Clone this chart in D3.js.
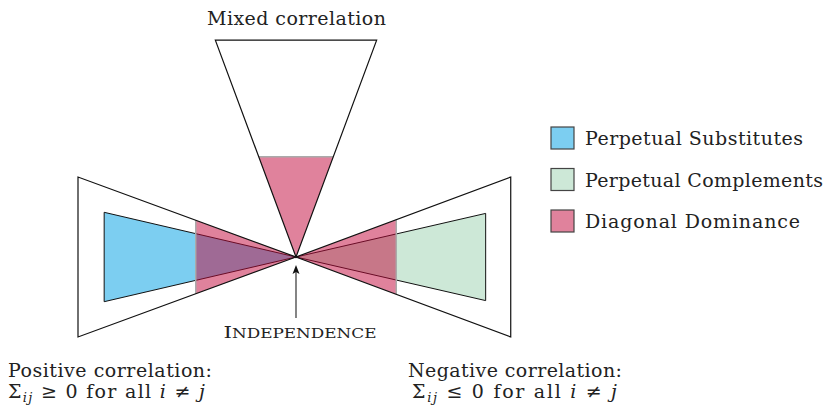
<!DOCTYPE html>
<html>
<head>
<meta charset="utf-8">
<script src="https://cdn.jsdelivr.net/npm/d3@7"></script>
<style>
  body { margin: 0; background: #fff; }
</style>
</head>
<body>
<script>
// wedges of the diagram, all meeting at the independence point (0,0)
const wedgeNames = ['Positive correlation', 'Mixed correlation', 'Negative correlation'];
const wedgeAngles = [180, 90, 0];
const outerReach = [10, 9.95, 9.85];
const outerSpread = [3.67, 3.7, 3.67];

const perpetualNames = ['Perpetual Substitutes', 'Perpetual Complements'];
const perpetualWedge = [0, 2];
const perpetualReach = [8.8, 8.7];
const perpetualSpread = [2.05, 2.0];

const dominanceReach = [4.6, 4.6, 4.6];

const legendNames = ['Perpetual Substitutes', 'Perpetual Complements', 'Diagonal Dominance'];
const legendColors = ['#7ccef1', '#cde8d7', 'dominance'];

const svgWidth = 827;
const svgHeight = 409;
const serif = '"DejaVu Serif", "Liberation Serif", serif';

const svg = d3.select('body').append('svg')
    .attr('width', svgWidth)
    .attr('height', svgHeight)
    .attr('font-family', serif)
    .attr('fill', '#222');

const x = d3.scaleLinear().domain([-10, 10]).range([78, 514]);
const y = d3.scaleLinear().domain([-10, 10]).range([475, 39]);

const pinkFill = 'rgb(193,5,57)';
const pinkOpacity = 0.5;

// point at distance "along" in the wedge direction, "across" to the side
function pt(i, along, across) {
    const a = wedgeAngles[i] * Math.PI / 180;
    const dx = Math.cos(a), dy = Math.sin(a);
    return [x(along * dx - across * dy), y(along * dy + across * dx)];
}

function wedge(i, reach, spread) {
    return [pt(i, 0, 0), pt(i, reach, spread), pt(i, reach, -spread)];
}

const line = d3.line();

// perpetual substitutes / complements
const perpG = svg.append('g');
perpetualWedge.forEach((w, k) => {
    perpG.append('path')
        .attr('d', line(wedge(w, perpetualReach[k], perpetualSpread[k])) + 'Z')
        .attr('fill', legendColors[k])
        .attr('stroke', '#111')
        .attr('stroke-width', 1)
        .attr('stroke-linejoin', 'round');
});

// diagonal dominance: inner part of every wedge
const domG = svg.append('g');
wedgeNames.forEach((n, i) => {
    const r = dominanceReach[i];
    const s = outerSpread[i] * r / outerReach[i];
    domG.append('path')
        .attr('d', line(wedge(i, r, s)) + 'Z')
        .attr('fill', pinkFill)
        .attr('fill-opacity', pinkOpacity);
    domG.append('path')
        .attr('d', line([pt(i, r, s), pt(i, r, -s)]))
        .attr('stroke', '#aaa')
        .attr('stroke-width', 1.5)
        .attr('fill', 'none');
});

// outer wedge outlines
const outG = svg.append('g');
wedgeNames.forEach((n, i) => {
    outG.append('path')
        .attr('d', line(wedge(i, outerReach[i], outerSpread[i])) + 'Z')
        .attr('fill', 'none')
        .attr('stroke', '#111')
        .attr('stroke-width', 1.2)
        .attr('stroke-linejoin', 'miter');
});

// independence arrow
const tip = [x(0), y(0) + 8];
svg.append('line')
    .attr('x1', tip[0]).attr('x2', tip[0])
    .attr('y1', tip[1] + 6).attr('y2', y(0) + 61)
    .attr('stroke', '#333')
    .attr('stroke-width', 1.2);
svg.append('path')
    .attr('d', line([[tip[0], tip[1]], [tip[0] - 3.5, tip[1] + 9], [tip[0], tip[1] + 7], [tip[0] + 3.5, tip[1] + 9]]) + 'Z')
    .attr('fill', '#111');

const indep = svg.append('text')
    .attr('x', x(0) + 4)
    .attr('y', y(0) + 81)
    .attr('text-anchor', 'middle')
    .attr('textLength', 153)
    .attr('lengthAdjust', 'spacingAndGlyphs');
indep.append('tspan').attr('font-size', 16).text('I');
indep.append('tspan').attr('font-size', 12.5).text('NDEPENDENCE');

// wedge captions
svg.append('text')
    .attr('x', 207)
    .attr('y', 25)
    .attr('font-size', 19)
    .attr('textLength', 179)
    .text(wedgeNames[1]);

function mathLine(sel, rel) {
    sel.append('tspan').text('\u03A3');
    sel.append('tspan').attr('font-style', 'italic').attr('font-size', 13).attr('dy', 4).text('ij');
    sel.append('tspan').attr('dy', -4).text(' ' + rel + ' 0 for all ');
    sel.append('tspan').attr('font-style', 'italic').text('i');
    sel.append('tspan').text(' \u2260 ');
    sel.append('tspan').attr('font-style', 'italic').text('j');
}

svg.append('text').attr('x', 8).attr('y', 377).attr('font-size', 19)
    .attr('textLength', 204).text(wedgeNames[0] + ':');
mathLine(svg.append('text').attr('x', 8).attr('y', 398).attr('font-size', 19)
    .attr('textLength', 197), '\u2265');

svg.append('text').attr('x', 408).attr('y', 377).attr('font-size', 19)
    .attr('textLength', 214).text(wedgeNames[2] + ':');
mathLine(svg.append('text').attr('x', 412).attr('y', 398).attr('font-size', 19)
    .attr('textLength', 205), '\u2264');

// legend
const legendWidths = [218, 238, 215];
const legend = svg.append('g').attr('transform', 'translate(551,127)');
legendNames.forEach((n, k) => {
    const row = legend.append('g').attr('transform', 'translate(0,' + (k * 41.5) + ')');
    row.append('rect')
        .attr('width', 23).attr('height', 22)
        .attr('fill', legendColors[k] === 'dominance' ? pinkFill : legendColors[k])
        .attr('fill-opacity', legendColors[k] === 'dominance' ? pinkOpacity : 1)
        .attr('stroke', '#444')
        .attr('stroke-width', 1.2);
    row.append('text')
        .attr('x', 34).attr('y', 18)
        .attr('font-size', 19)
        .attr('textLength', legendWidths[k])
        .text(n);
});
</script>
</body>
</html>
